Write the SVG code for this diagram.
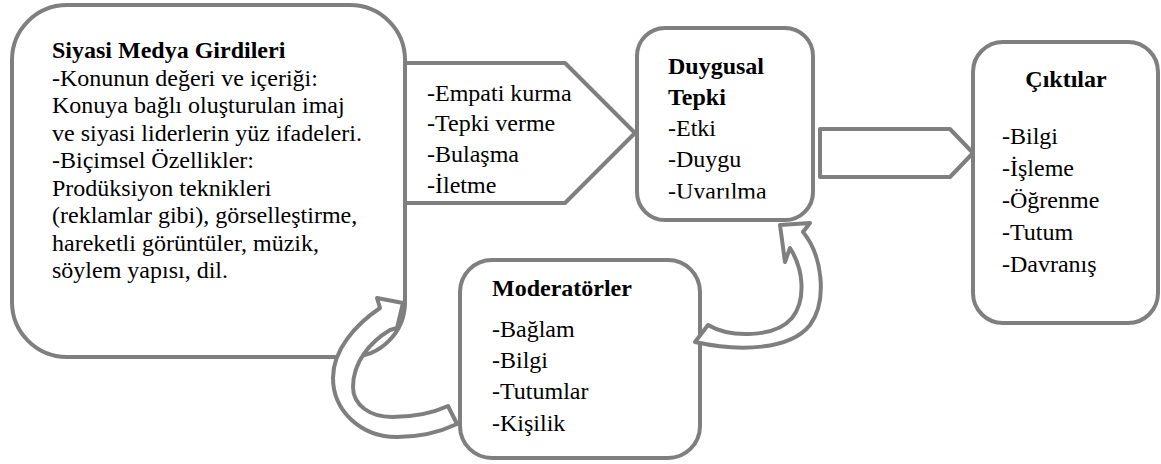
<svg xmlns="http://www.w3.org/2000/svg" width="1161" height="464" viewBox="0 0 1161 464">
<style>
.box{fill:#fff;stroke:#7f7f7f;stroke-width:4;stroke-linejoin:round}
.t{font-family:"Liberation Serif","Times New Roman",serif;font-size:24px;fill:#000}
.b{font-weight:bold}
</style>
<defs>
<clipPath id="clipD"><rect x="640" y="30" width="170" height="168.5"/></clipPath>
</defs>
<rect width="1161" height="464" fill="#fff"/>
<g id="node-inputs">
<rect class="box" x="12" y="5" width="393" height="352" rx="55" ry="55"/>
<text class="t" x="52" y="58"><tspan class="b">Siyasi Medya Girdileri</tspan>
<tspan x="52" y="85.5">-Konunun değeri ve içeriği:</tspan>
<tspan x="52" y="113">Konuya bağlı oluşturulan imaj</tspan>
<tspan x="52" y="140.5">ve siyasi liderlerin yüz ifadeleri.</tspan>
<tspan x="52" y="168">-Biçimsel Özellikler:</tspan>
<tspan x="52" y="195.5">Prodüksiyon teknikleri</tspan>
<tspan x="52" y="223">(reklamlar gibi), görselleştirme,</tspan>
<tspan x="52" y="250.5">hareketli görüntüler, müzik,</tspan>
<tspan x="52" y="278">söylem yapısı, dil.</tspan></text>
</g>
<g id="node-process">
<polygon class="box" points="405,63 565,63 635,133 565,203 405,203"/>
<text class="t" x="427" y="100.5">-Empati kurma<tspan x="427" y="131">-Tepki verme</tspan><tspan x="427" y="161.5">-Bulaşma</tspan><tspan x="427" y="192.5">-İletme</tspan></text>
</g>
<g id="node-emotion">
<rect class="box" x="637" y="28" width="176" height="192" rx="28" ry="28"/>
<text class="t" x="668" y="74" clip-path="url(#clipD)"><tspan class="b">Duygusal</tspan><tspan class="b" x="668" y="105">Tepki</tspan><tspan x="668" y="136">-Etki</tspan><tspan x="668" y="167">-Duygu</tspan><tspan x="668" y="199">-Uyarılma</tspan></text>
</g>
<g id="node-outputs">
<rect class="box" x="973" y="42" width="185" height="281" rx="30" ry="30"/>
<text class="t b" x="1066" y="87" text-anchor="middle">Çıktılar</text>
<text class="t" x="1002" y="144">-Bilgi<tspan x="1002" y="176">-İşleme</tspan><tspan x="1002" y="208">-Öğrenme</tspan><tspan x="1002" y="240">-Tutum</tspan><tspan x="1002" y="271.5">-Davranış</tspan></text>
</g>
<g id="node-moderators">
<rect class="box" x="460" y="260" width="240" height="198" rx="32" ry="32"/>
<text class="t b" x="492" y="296">Moderatörler</text>
<text class="t" x="492" y="337">-Bağlam<tspan x="492" y="368">-Bilgi</tspan><tspan x="492" y="399">-Tutumlar</tspan><tspan x="492" y="430.5">-Kişilik</tspan></text>
</g>
<g id="connectors">
<polygon class="box" points="820,129 950,129 973,153 950,177 820,177"/>
<path class="box" d="M457,424 C440,432 420,437 397,437 C360,437 333,410 333,378 C333,350 355,325 380,308 L377,298 L403,303 L397,328 L390,330 C370,342 353,362 353,387 C353,405 370,417 392,417 C415,417 435,412 448,406 Z"/>
<path class="box" d="M708,325 C730,338 775,338 792,318 C806,300 804,270 790,248 L785,262 L780,225 L810,223 L803,232 C822,255 828,300 810,325 C790,350 740,352 695,342 Z"/>
</g>
</svg>
